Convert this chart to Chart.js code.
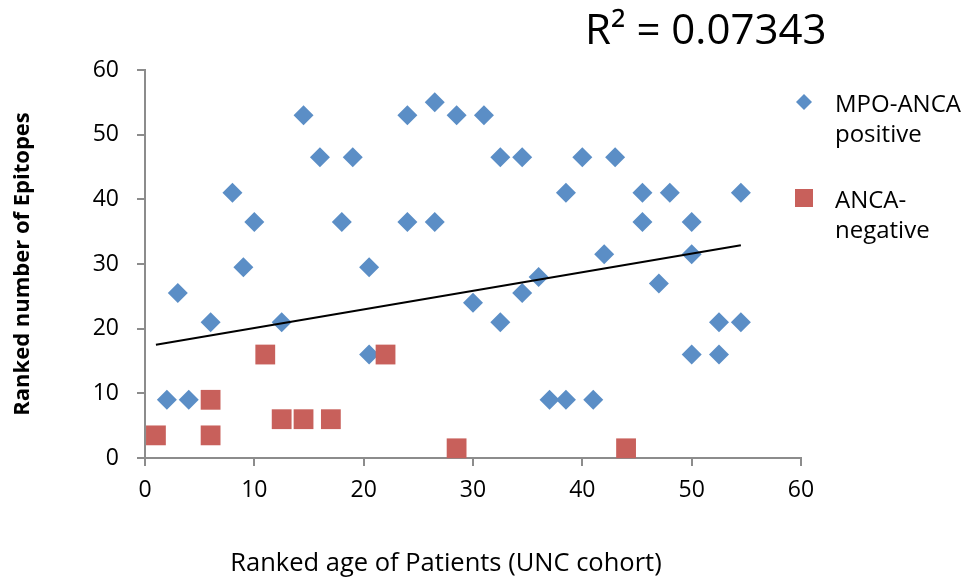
<!DOCTYPE html>
<html>
<head>
<meta charset="utf-8">
<script src="https://cdn.jsdelivr.net/npm/chart.js@4.4.1/dist/chart.umd.min.js"></script>
<style>
  html, body { margin: 0; padding: 0; background: #fff; }
  #wrap { width: 961px; height: 577px; }
</style>
</head>
<body>
<div id="wrap"><canvas id="chart" width="961" height="577"></canvas></div>
<script>
// Datos
const mpoX = [2, 4, 3, 6, 8, 9, 10, 12.5, 14.5, 16, 18, 19, 20.5, 20.5, 24, 24, 26.5, 26.5, 28.5,
              31, 32.5, 34.5, 38.5, 40, 43, 45.5, 48, 54.5, 45.5, 50, 42, 50, 36, 34.5, 30, 32.5,
              47, 52.5, 54.5, 50, 52.5, 37, 38.5, 41];
const mpoY = [9, 9, 25.5, 21, 41, 29.5, 36.5, 21, 53, 46.5, 36.5, 46.5, 29.5, 16, 53, 36.5, 55, 36.5, 53,
              53, 46.5, 46.5, 41, 46.5, 46.5, 41, 41, 41, 36.5, 36.5, 31.5, 31.5, 28, 25.5, 24, 21,
              27, 21, 21, 16, 16, 9, 9, 9];
const negX = [1, 6, 6, 11, 12.5, 14.5, 17, 22, 28.5, 44];
const negY = [3.5, 3.5, 9, 16, 6, 6, 6, 16, 1.5, 1.5];
const trendX = [1, 54.5];
const trendY = [17.5, 32.9];
const xTicks = [0, 10, 20, 30, 40, 50, 60];
const yTicks = [0, 10, 20, 30, 40, 50, 60];

const BLUE = '#5b8ec6';
const RED = '#c8605b';
const AXIS = '#8c8c8c';
const FONT = '"Open Sans", sans-serif';

const toPoints = (xs, ys) => xs.map((x, i) => ({ x: x, y: ys[i] }));

// Leyenda, R² y título del eje X dibujados sobre el lienzo
const extras = {
    id: 'extras',
    afterDraw(chart) {
        const ctx = chart.ctx;
        ctx.save();
        ctx.fillStyle = '#000';
        ctx.textBaseline = 'alphabetic';
        ctx.textAlign = 'left';
        ctx.font = '42px ' + FONT;
        ctx.fillText('R\u00B2 = 0.07343', 585, 44);

        // título eje X
        ctx.textAlign = 'center';
        ctx.font = '25.5px ' + FONT;
        ctx.fillText('Ranked age of Patients (UNC cohort)', 446, 571);
        ctx.textAlign = 'left';

        // marcador rombo
        ctx.fillStyle = BLUE;
        ctx.beginPath();
        ctx.moveTo(804, 94); ctx.lineTo(812, 102); ctx.lineTo(804, 110); ctx.lineTo(796, 102);
        ctx.closePath();
        ctx.fill();
        // marcador cuadrado
        ctx.fillStyle = RED;
        ctx.fillRect(795, 189, 18, 18);

        ctx.fillStyle = '#000';
        ctx.font = '24px ' + FONT;
        ctx.fillText('MPO-ANCA', 835, 112);
        ctx.fillText('positive', 835, 142);
        ctx.fillText('ANCA-', 835, 208);
        ctx.fillText('negative', 835, 238);
        ctx.restore();
    }
};

new Chart(document.getElementById('chart').getContext('2d'), {
    type: 'scatter',
    data: {
        datasets: [
            {
                type: 'line',
                label: 'Tendencia',
                data: toPoints(trendX, trendY),
                borderColor: '#000',
                borderWidth: 2,
                pointRadius: 0,
                fill: false,
                order: 0
            },
            {
                label: 'ANCA-negative',
                data: toPoints(negX, negY),
                pointStyle: 'rect',
                pointRadius: 14,
                backgroundColor: RED,
                borderColor: RED,
                borderWidth: 0,
                order: 1
            },
            {
                label: 'MPO-ANCA positive',
                data: toPoints(mpoX, mpoY),
                pointStyle: 'rectRot',
                pointRadius: 10,
                backgroundColor: BLUE,
                borderColor: BLUE,
                borderWidth: 0,
                order: 2
            }
        ]
    },
    options: {
        responsive: false,
        animation: false,
        clip: false,
        layout: { padding: { top: 70, right: 160, left: 0, bottom: 0 } },
        plugins: {
            legend: { display: false },
            tooltip: { enabled: false }
        },
        scales: {
            x: {
                type: 'linear',
                min: 0,
                max: 60,
                afterBuildTicks: (s) => { s.ticks = xTicks.map(v => ({ value: v })); },
                afterFit: (s) => { s.height = 119; },
                border: { display: true, color: AXIS, width: 2 },
                grid: { drawOnChartArea: false, drawTicks: true, tickLength: 8, color: AXIS, lineWidth: 2 },
                ticks: { color: '#000', font: { family: FONT, size: 23 }, padding: 11 },
                title: { display: false }
            },
            y: {
                type: 'linear',
                min: 0,
                max: 60,
                afterBuildTicks: (s) => { s.ticks = yTicks.map(v => ({ value: v })); },
                afterFit: (s) => { s.width = 145; },
                border: { display: true, color: AXIS, width: 2 },
                grid: { drawOnChartArea: false, drawTicks: true, tickLength: 8, color: AXIS, lineWidth: 2 },
                ticks: { color: '#000', font: { family: FONT, size: 23 }, padding: 18 },
                title: {
                    display: true,
                    text: 'Ranked number of Epitopes',
                    color: '#000',
                    font: { family: FONT, size: 22, weight: 'bold' },
                    padding: { top: 10, bottom: 0 }
                }
            }
        }
    },
    plugins: [extras]
});
</script>
</body>
</html>
